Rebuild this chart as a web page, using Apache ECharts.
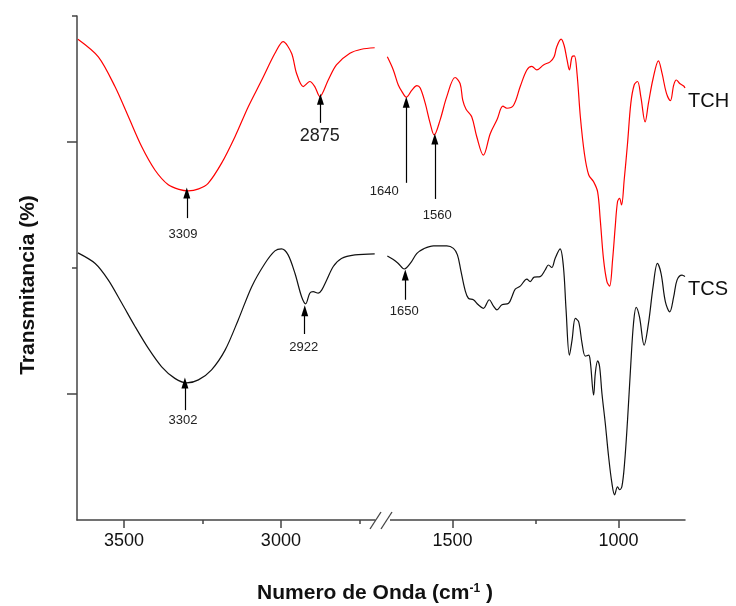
<!DOCTYPE html>
<html><head><meta charset="utf-8">
<script src="https://cdn.jsdelivr.net/npm/echarts@6/dist/echarts.min.js"></script>
<style>html,body{margin:0;padding:0;background:#fff}#c{width:736px;height:606px}</style>
</head><body><div id="c"></div>
<script>
// ---- data (wavenumber cm-1, relative transmittance) ----
const tchHigh = [[3647,95.4],[3582,91.9],[3529,86.0],[3486,80.0],[3444,74.1],[3401,69.4],[3359,66.5],[3325,65.6],[3295,65.3],[3262,65.7],[3232,66.8],[3189,70.8],[3146,76.1],[3104,82.0],[3061,87.3],[3019,92.6],[2993,94.9],[2966,92.6],[2950,88.6],[2929,86.0],[2908,87.0],[2892,86.0],[2876,84.0],[2849,87.3],[2823,90.3],[2780,92.6],[2743,93.4],[2701,93.7]];
const tcsHigh = [[3647,53.0],[3592,50.9],[3550,47.6],[3507,43.0],[3465,38.4],[3423,34.1],[3380,30.4],[3338,28.1],[3300,27.2],[3263,27.8],[3221,29.8],[3178,33.7],[3136,39.7],[3093,46.3],[3051,50.9],[3019,53.4],[2998,53.8],[2977,52.6],[2955,48.9],[2934,44.3],[2921,42.9],[2908,45.0],[2897,45.3],[2881,45.0],[2870,45.6],[2854,47.6],[2833,50.3],[2807,51.9],[2764,52.6],[2701,52.8]];
const tchLow = [[1696,91.9],[1678,89.3],[1663,86.3],[1652,85.0],[1639,83.9],[1622,85.3],[1607,86.2],[1597,85.7],[1582,82.7],[1567,78.7],[1555,76.4],[1537,79.4],[1517,84.0],[1492,87.8],[1477,86.6],[1469,83.3],[1459,81.5],[1442,80.0],[1427,76.1],[1407,72.4],[1386,76.7],[1366,79.4],[1348,82.1],[1336,81.7],[1316,82.3],[1296,86.0],[1276,89.3],[1261,90.0],[1246,89.3],[1226,90.3],[1206,90.9],[1194,91.9],[1186,93.9],[1173,95.4],[1164,94.2],[1155,91.3],[1148,89.3],[1140,91.9],[1133,92.1],[1125,88.6],[1115,80.0],[1103,72.8],[1090,68.5],[1075,67.1],[1063,65.1],[1055,59.5],[1045,51.6],[1035,47.3],[1027,46.4],[1018,51.6],[1010,58.2],[1003,63.2],[997,63.8],[991,62.5],[983,67.5],[973,74.7],[963,82.7],[953,86.3],[943,87.0],[933,84.0],[920,79.0],[910,82.7],[896,87.6],[880,91.1],[869,88.6],[856,84.7],[844,83.2],[834,86.3],[826,87.3],[816,86.6],[804,86.1],[800,85.7]];
const tcsLow = [[1696,52.4],[1678,51.7],[1663,50.9],[1645,49.8],[1627,50.9],[1607,52.9],[1587,53.8],[1557,54.4],[1517,54.4],[1497,53.9],[1485,52.6],[1475,49.6],[1462,45.6],[1452,44.0],[1437,43.7],[1422,42.7],[1407,42.0],[1389,43.7],[1377,42.5],[1366,41.7],[1351,42.7],[1331,43.0],[1321,44.3],[1311,45.8],[1296,46.4],[1276,47.8],[1266,47.3],[1254,48.2],[1236,48.3],[1221,49.6],[1211,50.6],[1201,50.1],[1191,51.9],[1176,53.8],[1166,50.3],[1158,41.7],[1148,32.7],[1140,35.7],[1130,40.0],[1120,39.3],[1110,35.1],[1100,32.5],[1090,32.7],[1085,31.4],[1075,24.8],[1070,29.1],[1063,31.6],[1057,30.4],[1050,25.1],[1040,19.2],[1030,12.6],[1020,7.3],[1012,5.0],[1003,6.6],[997,6.0],[990,6.6],[982,11.2],[973,19.8],[963,31.1],[955,39.0],[947,42.2],[937,40.3],[923,34.7],[910,39.0],[896,46.3],[883,50.9],[872,48.9],[859,43.3],[846,41.3],[834,44.3],[824,47.6],[809,48.6],[800,48.3]];

// axis ticks
const highMajorTicks = [3500, 3000];
const highMinorTicks = [3250, 2750];
const lowMajorTicks = [1500, 1000];
const lowMinorTicks = [1250];
const yMajorTicks = [25, 75];
const yMinorTicks = [50, 100];

// peak annotations: label, arrow x, arrow base y, arrow tip y, label x, label y, font size
const tchHighPeaks = [['3309',3300,59.9,64.9,3312,56.7,13],['2875',2874,78.8,83.5,2876,76.2,18]];
const tcsHighPeaks = [['3302',3306,21.8,27.2,3312,19.8,13],['2922',2924,36.9,41.5,2927,34.3,13]];
const tchLowPeaks = [['1640',1639,66.9,82.9,1639,65.1,13],['1560',1553,63.7,75.6,1546,60.5,13]];
const tcsLowPeaks = [['1650',1642,43.7,48.6,1645,41.3,13]];

const FONT = 'Arial, "Liberation Sans", sans-serif';
const AX = '#444';

function peakMarks(peaks, endName, endPoint) {
  const pts = peaks.map(p => ({ name: p[0], coord: [p[4], p[5]],
        label: { show: true, position: 'inside', formatter: '{b}', color: '#222', fontSize: p[6], fontFamily: FONT,
                 offset: p[0] === '1640' ? [-22, 0] : [0, 0] } }));
  if (endName) {
    pts.push({ name: endName, coord: endPoint,
      label: { show: true, position: 'right', distance: 3, offset: [0, 13], formatter: '{b}', color: '#111', fontSize: 20, fontFamily: FONT } });
  }
  return {
    markLine: {
      silent: true, animation: false, symbol: ['none', 'triangle'],
      lineStyle: { color: '#000', width: 1.2, type: 'solid' },
      label: { show: false },
      data: peaks.map(p => [{ coord: [p[1], p[2]], symbol: 'none' }, { coord: [p[1], p[3]], symbol: 'triangle', symbolSize: [7, 11] }])
    },
    markPoint: { silent: true, animation: false, symbol: 'circle', symbolSize: 0, data: pts }
  };
}

function xAx(grid, min, max, ticks, labels, len) {
  return {
    type: 'value', gridIndex: grid, min, max, inverse: true, position: 'bottom',
    axisLine: { show: labels, onZero: false, lineStyle: { color: AX, width: 1.5 } },
    axisTick: { show: true, customValues: ticks, length: len, inside: false, lineStyle: { color: AX, width: 1.5 } },
    axisLabel: { show: labels, customValues: ticks, formatter: v => String(v), fontSize: 18, color: '#111', fontFamily: FONT, margin: 12 },
    splitLine: { show: false }
  };
}

const chart = echarts.init(document.getElementById('c'), null, { renderer: 'canvas' });
chart.setOption({
  animation: false,
  backgroundColor: '#fff',
  grid: [
    { left: 77, top: 16, width: 298, height: 504 },
    { left: 386, top: 16, width: 299, height: 504 }
  ],
  xAxis: [
    xAx(0, 2700, 3650, highMajorTicks, true, 8),
    xAx(0, 2700, 3650, highMinorTicks, false, 4),
    xAx(1, 800, 1700, lowMajorTicks, true, 8),
    xAx(1, 800, 1700, lowMinorTicks, false, 4)
  ],
  yAxis: [
    { type: 'value', gridIndex: 0, min: 0, max: 100, position: 'left',
      axisLine: { show: true, lineStyle: { color: AX, width: 1.5 } },
      axisTick: { show: true, customValues: yMajorTicks, length: 10, lineStyle: { color: AX, width: 1.5 } },
      axisLabel: { show: false }, splitLine: { show: false } },
    { type: 'value', gridIndex: 0, min: 0, max: 100, position: 'left',
      axisLine: { show: false },
      axisTick: { show: true, customValues: yMinorTicks, length: 5, lineStyle: { color: AX, width: 1.5 } },
      axisLabel: { show: false }, splitLine: { show: false } },
    { type: 'value', gridIndex: 1, min: 0, max: 100, show: false }
  ],
  series: [
    Object.assign({ name: 'TCH', type: 'line', xAxisIndex: 0, yAxisIndex: 0, data: tchHigh, showSymbol: false, smooth: 0.3,
      lineStyle: { color: '#ff0000', width: 1.2 }, itemStyle: { color: '#ff0000' } }, peakMarks(tchHighPeaks)),
    Object.assign({ name: 'TCS', type: 'line', xAxisIndex: 0, yAxisIndex: 0, data: tcsHigh, showSymbol: false, smooth: 0.3,
      lineStyle: { color: '#111', width: 1.2 }, itemStyle: { color: '#111' } }, peakMarks(tcsHighPeaks)),
    Object.assign({ name: 'TCH', type: 'line', xAxisIndex: 2, yAxisIndex: 2, data: tchLow, showSymbol: false, smooth: 0.35,
      lineStyle: { color: '#ff0000', width: 1.2 }, itemStyle: { color: '#ff0000' } },
      peakMarks(tchLowPeaks, 'TCH', tchLow[tchLow.length - 1])),
    Object.assign({ name: 'TCS', type: 'line', xAxisIndex: 2, yAxisIndex: 2, data: tcsLow, showSymbol: false, smooth: 0.35,
      lineStyle: { color: '#111', width: 1.2 }, itemStyle: { color: '#111' } },
      peakMarks(tcsLowPeaks, 'TCS', tcsLow[tcsLow.length - 1]))
  ],
  graphic: [
    { type: 'rect', shape: { x: 376, y: 515, width: 14, height: 10 }, style: { fill: '#fff' }, z: 100 },
    { type: 'line', shape: { x1: 370, y1: 529, x2: 381, y2: 512 }, style: { stroke: AX, lineWidth: 1.3 }, z: 101 },
    { type: 'line', shape: { x1: 381, y1: 529, x2: 392, y2: 512 }, style: { stroke: AX, lineWidth: 1.3 }, z: 101 },
    { type: 'text', x: 375, y: 593, z: 101,
      style: { text: 'Numero de Onda (cm{s|-1} )', align: 'center', verticalAlign: 'middle',
        fontSize: 21, fontWeight: 'bold', fontFamily: FONT, fill: '#111',
        rich: { s: { fontSize: 12, fontWeight: 'bold', fontFamily: FONT, verticalAlign: 'top', fill: '#111' } } } },
    { type: 'text', x: 28, y: 285, rotation: Math.PI / 2, z: 101,
      style: { text: 'Transmitancia (%)', align: 'center', verticalAlign: 'middle',
        fontSize: 21, fontWeight: 'bold', fontFamily: FONT, fill: '#111' } }
  ]
});
</script>
</body></html>
